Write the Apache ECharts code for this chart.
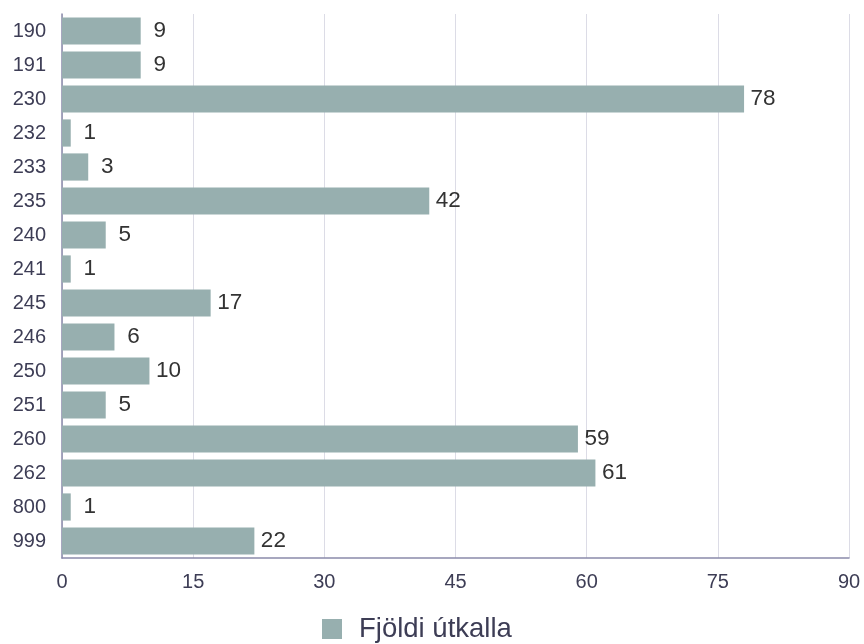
<!DOCTYPE html>
<html><head><meta charset="utf-8">
<script src="https://cdn.jsdelivr.net/npm/echarts@6/dist/echarts.min.js"></script>
<style>html,body{margin:0;padding:0;background:#fff}#c{width:864px;height:644px}</style>
</head><body><div id="c"></div>
<script>
const categories = ['190','191','230','232','233','235','240','241','245','246','250','251','260','262','800','999'];
const values = [9,9,78,1,3,42,5,1,17,6,10,5,59,61,1,22];
const xTicks = [0,15,30,45,60,75,90];
const seriesName = 'Fjöldi útkalla';

const chart = echarts.init(document.getElementById('c'));
chart.setOption({
  animation: false,
  textStyle: {fontFamily: 'Liberation Sans, Arial, sans-serif'},
  grid: {left: 62, right: 15, top: 14, bottom: 86, containLabel: false},
  legend: {
    top: 610, left: 317, itemWidth: 20, itemHeight: 20, itemGap: 10,
    icon: 'rect',
    textStyle: {fontSize: 27.5, color: '#3d3d55', fontFamily: 'Liberation Sans, Arial, sans-serif', padding: [0,0,0,12]},
    data: [seriesName]
  },
  xAxis: {
    type: 'value', min: xTicks[0], max: xTicks[xTicks.length-1], interval: 15,
    axisLine: {show: true, lineStyle: {color: '#8a8aaa', width: 1.5}},
    axisTick: {show: false},
    axisLabel: {fontSize: 20, color: '#3d3d55', margin: 14},
    splitLine: {show: true, lineStyle: {color: '#dcdce6', width: 1}}
  },
  yAxis: {
    type: 'category', data: categories, inverse: true,
    axisLine: {show: true, lineStyle: {color: '#8a8aaa', width: 1.5}},
    axisTick: {show: false},
    axisLabel: {fontSize: 20, color: '#3d3d55', margin: 16}
  },
  series: [{
    name: seriesName, type: 'bar', data: values,
    barCategoryGap: '20%',
    itemStyle: {color: '#97afaf'},
    label: {
      show: true, position: 'right', distance: 6,
      formatter: '{v|{c}}',
      rich: {v: {width: 26, align: 'center', fontSize: 22.5, color: '#333'}}
    }
  }]
});
</script></body></html>
